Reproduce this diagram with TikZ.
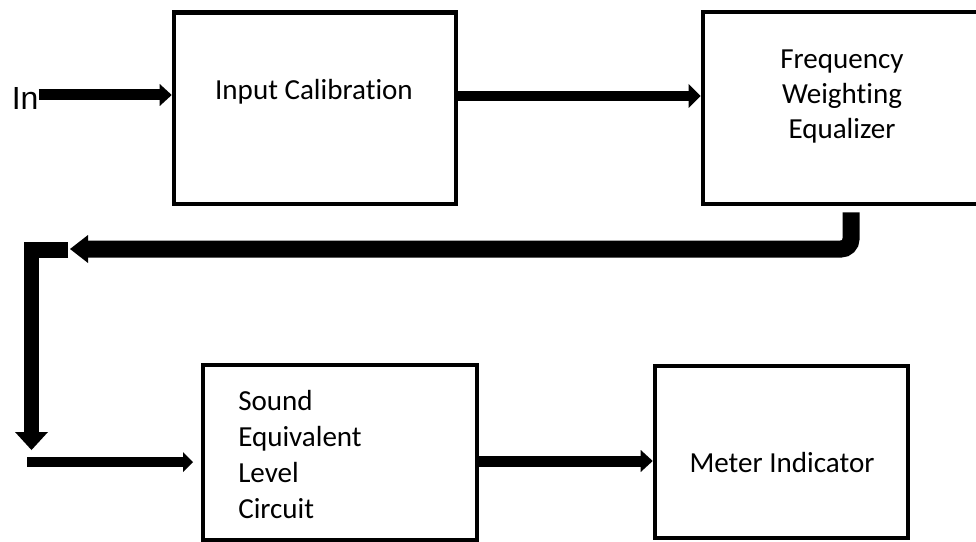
\documentclass[tikz,border=0pt]{standalone}
\usepackage{fontspec}
\setmainfont[Ligatures=NoCommon]{Carlito}
\newfontfamily\arialfont{Liberation Sans}
\usetikzlibrary{arrows.meta}
\begin{document}
\begin{tikzpicture}[x=0.75pt,y=-0.75pt,
  blk/.style={draw, line width=3.4pt, inner sep=0pt},
  txt/.style={inner sep=0pt, font=\fontsize{21.8}{26.25}\selectfont},
  conn/.style={line width=#1},
]
\useasboundingbox (0,0) rectangle (976,542);
\clip (0,0) rectangle (976,542);

% boxes
\node[blk, minimum width=211.5pt, minimum height=143.6pt] (box1) at (315,108.25) {};
\node[blk, minimum width=208.5pt, minimum height=144pt] (box2) at (842,108) {};
\node[blk, minimum width=205.5pt, minimum height=131.25pt] (box3) at (340,452.5) {};
\node[blk, minimum width=189.75pt, minimum height=129pt] (box4) at (781.5,452) {};

% texts
\node[txt, anchor=base] (t1) at (314,100) {Input Calibration};
\node[txt, align=center] (t2) at (842,96.5) {Frequency\\Weighting\\Equalizer};
\node[txt, font=\fontsize{21.8}{27}\selectfont, align=left, anchor=west] (t3) at (238,455) {Sound\\Equivalent\\Level\\Circuit};
\node[txt, anchor=base] (t4) at (782,472) {Meter Indicator};
\node[font=\arialfont\fontsize{24}{28}\selectfont, anchor=base west, inner sep=0pt] (in) at (11.5,110) {In};

% connectors
\draw[conn=8.25pt, -{Triangle[length=9pt,width=16.5pt,line width=0pt]}]
  (in.east |- 0,95) -- (box1.west |- 0,95);
\draw[conn=7.5pt, -{Triangle[length=9pt,width=18pt,line width=0pt]}]
  (box1.east |- 0,96) -- (box2.west |- 0,96);

\coordinate (bend) at (851,249);
\coordinate (fb) at (70,249);
\draw[conn=12.75pt, rounded corners=7.5pt, -{Triangle[length=13.5pt,width=21pt,line width=0pt]}]
  ([xshift=6.75pt,yshift=-4.5pt]box2.south) -- (bend) -- (fb);

\coordinate (lh) at (68,250);
\coordinate (lc) at (31.5,250);
\coordinate (lt) at (31.5,450);
\draw[conn=11.6pt, -{Triangle[length=13.5pt,width=24.75pt,line width=0pt]}]
  (lh) -- (lc) -- (lt);

\coordinate (bs) at (27,462);
\draw[conn=7.5pt, shorten >=5.8pt, -{Triangle[length=7.5pt,width=15pt,line width=0pt]}]
  (bs) -- (box3.west |- bs);
\draw[conn=8.25pt, -{Triangle[length=9pt,width=16.5pt,line width=0pt]}]
  (box3.east |- 0,461) -- (box4.west |- 0,461);
\end{tikzpicture}
\end{document}
